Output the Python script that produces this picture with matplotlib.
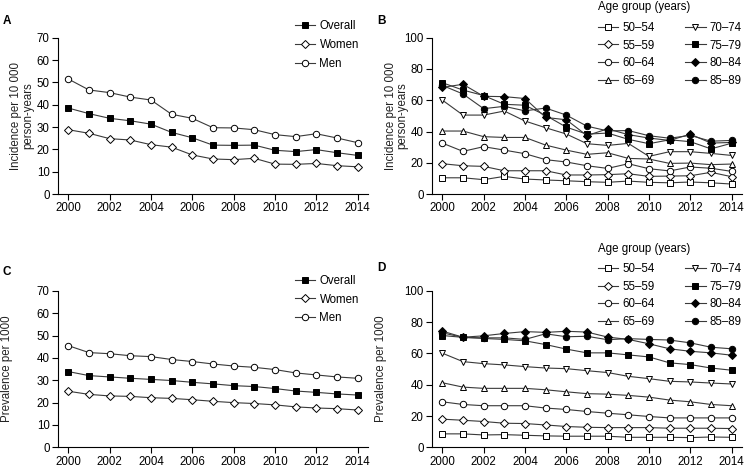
import matplotlib
matplotlib.use("Agg")
import matplotlib.pyplot as plt

plt.rcParams["font.family"] = ["Liberation Sans", "DejaVu Sans"]
plt.rcParams["font.size"] = 8

years = list(range(2000, 2015))

# Panel A: incidence per 10 000 person-years, by sex
inc_overall = [38.5, 36.0, 33.9, 32.8, 31.3, 27.6, 25.2, 21.9, 21.8, 21.9, 19.6, 19.0, 19.9, 18.5, 17.3]
inc_women = [28.8, 27.2, 24.8, 24.2, 22.1, 21.0, 17.5, 15.7, 15.4, 16.0, 13.4, 13.3, 13.7, 12.7, 12.2]
inc_men = [51.5, 46.6, 45.4, 43.4, 42.1, 35.7, 33.9, 29.7, 29.6, 28.8, 26.6, 25.7, 27.0, 25.1, 23.0]

# Panel B: incidence by age group
inc_age = {
    "50–54": [10.4, 10.4, 9.2, 11.3, 9.6, 9.0, 8.5, 7.9, 7.5, 8.3, 7.5, 7.2, 7.7, 7.2, 6.4],
    "55–59": [19.4, 18.1, 17.7, 14.9, 14.9, 14.9, 12.2, 12.2, 12.4, 13.0, 11.3, 11.5, 11.7, 13.9, 11.1],
    "60–64": [32.6, 27.3, 30.3, 28.1, 25.8, 22.0, 20.5, 18.1, 16.4, 19.4, 16.2, 14.8, 17.3, 16.5, 14.5],
    "65–69": [40.3, 40.3, 36.7, 36.2, 36.2, 31.3, 28.1, 25.4, 26.4, 22.8, 22.4, 19.6, 19.8, 18.8, 19.2],
    "70–74": [60.1, 50.5, 50.5, 53.1, 46.7, 42.4, 38.4, 32.2, 31.1, 32.4, 24.1, 27.1, 27.1, 26.0, 24.7],
    "75–79": [71.2, 66.5, 63.0, 57.4, 56.8, 50.3, 42.8, 38.3, 39.0, 35.0, 32.2, 34.7, 33.5, 28.9, 32.5],
    "80–84": [68.2, 70.2, 62.5, 62.3, 61.1, 49.0, 47.5, 37.4, 41.7, 38.0, 35.8, 34.3, 38.3, 32.6, 33.0],
    "85–89": [69.5, 64.0, 54.6, 56.1, 53.2, 55.0, 50.5, 43.4, 40.4, 40.6, 37.3, 35.7, 37.5, 33.8, 34.3],
}

# Panel C: prevalence per 1000, by sex
prev_overall = [33.9, 32.1, 31.5, 30.9, 30.4, 29.9, 29.1, 28.4, 27.6, 27.2, 26.3, 25.2, 24.6, 23.9, 23.4]
prev_women = [25.1, 23.7, 23.0, 22.8, 22.2, 21.9, 21.3, 20.6, 20.0, 19.6, 19.0, 18.1, 17.6, 17.3, 16.7]
prev_men = [45.5, 42.4, 41.9, 41.0, 40.6, 39.3, 38.4, 37.3, 36.4, 35.8, 34.8, 33.3, 32.4, 31.5, 30.9]

# Panel D: prevalence by age group
prev_age = {
    "50–54": [8.6, 8.6, 7.9, 8.1, 7.7, 7.3, 7.1, 7.1, 7.1, 6.4, 6.4, 6.4, 6.2, 6.6, 6.4],
    "55–59": [18.0, 17.3, 16.5, 15.4, 15.2, 14.3, 13.3, 12.8, 12.6, 12.6, 12.6, 12.2, 12.2, 12.2, 12.0],
    "60–64": [29.1, 27.4, 26.6, 26.6, 26.6, 25.1, 24.2, 22.9, 21.8, 20.8, 19.7, 18.8, 18.8, 18.8, 18.8],
    "65–69": [41.3, 38.5, 37.7, 37.7, 37.7, 36.8, 35.5, 34.3, 34.0, 33.2, 32.1, 30.2, 29.1, 27.4, 26.6],
    "70–74": [60.2, 54.8, 53.5, 52.7, 51.6, 50.7, 50.3, 49.0, 47.8, 45.4, 43.9, 42.2, 41.8, 41.1, 40.5],
    "75–79": [71.5, 70.3, 69.6, 69.0, 68.1, 65.7, 62.8, 60.4, 60.4, 59.1, 57.8, 54.0, 52.9, 50.7, 49.3],
    "80–84": [74.3, 70.4, 71.3, 72.8, 74.0, 73.5, 74.2, 73.7, 70.5, 69.0, 66.2, 63.0, 61.4, 60.4, 58.9],
    "85–89": [73.2, 70.3, 70.0, 70.0, 69.0, 72.6, 70.7, 71.0, 68.8, 69.5, 69.0, 68.6, 66.8, 64.0, 63.0],
}

sex_styles = [("Overall", "s", "black"), ("Women", "D", "white"), ("Men", "o", "white")]
age_styles = {
    "50–54": ("s", "white"), "55–59": ("D", "white"), "60–64": ("o", "white"),
    "65–69": ("^", "white"), "70–74": ("v", "white"), "75–79": ("s", "black"),
    "80–84": ("D", "black"), "85–89": ("o", "black"),
}
LINE_COLOR = "#3a3a3a"


def marker_size(m):
    return 4.0 if m == "D" else (5.0 if m in ("^", "v") else 4.6)


def style_axes(ax, ymax, ystep, ylabel):
    ax.set_xlim(1999.5, 2014.5)
    ax.set_ylim(0, ymax)
    ax.set_xticks(range(2000, 2015, 2))
    ax.set_yticks(range(0, ymax + 1, ystep))
    for side in ("top", "right"):
        ax.spines[side].set_visible(False)
    for side in ("left", "bottom"):
        ax.spines[side].set_linewidth(0.8)
    ax.tick_params(direction="out", length=4, width=0.8, labelsize=8.3, pad=2)
    ax.set_ylabel(ylabel, fontsize=8.3, color="#222222", linespacing=1.0)


def plot_series(ax, y, marker, face, label):
    ax.plot(years, y, color=LINE_COLOR, linewidth=0.8, marker=marker,
            markersize=marker_size(marker), markerfacecolor=face,
            markeredgecolor="black", markeredgewidth=0.7, label=label)


fig = plt.figure(figsize=(7.48, 4.71), dpi=100)
axA = fig.add_axes([0.0775, 0.588, 0.4144, 0.332])
axB = fig.add_axes([0.5775, 0.588, 0.4144, 0.332])
axC = fig.add_axes([0.0775, 0.0503, 0.4144, 0.332])
axD = fig.add_axes([0.5775, 0.0503, 0.4144, 0.332])

for ax, data in ((axA, (inc_overall, inc_women, inc_men)), (axC, (prev_overall, prev_women, prev_men))):
    for (label, m, face), y in zip(sex_styles, data):
        plot_series(ax, y, m, face, label)

for ax, data in ((axB, inc_age), (axD, prev_age)):
    for label, y in data.items():
        m, face = age_styles[label]
        plot_series(ax, y, m, face, label)

style_axes(axA, 70, 10, "Incidence per 10 000\nperson-years")
style_axes(axB, 100, 20, "Incidence per 10 000\nperson-years")
style_axes(axC, 70, 10, "Prevalence per 1000")
style_axes(axD, 100, 20, "Prevalence per 1000")
axA.yaxis.set_label_coords(-0.077, 0.5)
axB.yaxis.set_label_coords(-0.075, 0.5)
axC.yaxis.set_label_coords(-0.146, 0.5)
axD.yaxis.set_label_coords(-0.146, 0.5)

# legends
for ax, top in ((axA, 0.958), (axC, 0.417)):
    ax.legend(loc="upper left", bbox_to_anchor=(0.394, top), bbox_transform=fig.transFigure,
              frameon=False, borderpad=0, borderaxespad=0, handlelength=1.8,
              handletextpad=0.35, labelspacing=0.6, numpoints=1, fontsize=8.3)

for ax, top in ((axB, 0.997), (axD, 0.485)):
    ax.legend(loc="upper left", bbox_to_anchor=(0.799, top), bbox_transform=fig.transFigure,
              ncol=2, frameon=False, borderpad=0, borderaxespad=0, handlelength=1.8,
              handletextpad=0.35, labelspacing=0.5, columnspacing=2.6, numpoints=1,
              fontsize=8.3, title="Age group (years)", title_fontsize=8.3, alignment="left")
    ax.get_legend()._legend_box.sep = 6

for label, x, y in (("A", 0.004, 0.955), ("B", 0.505, 0.955), ("C", 0.004, 0.422), ("D", 0.505, 0.43)):
    fig.text(x, y, label, fontsize=8.5, fontweight="bold", va="center")

fig.savefig("out.png", dpi=100)
